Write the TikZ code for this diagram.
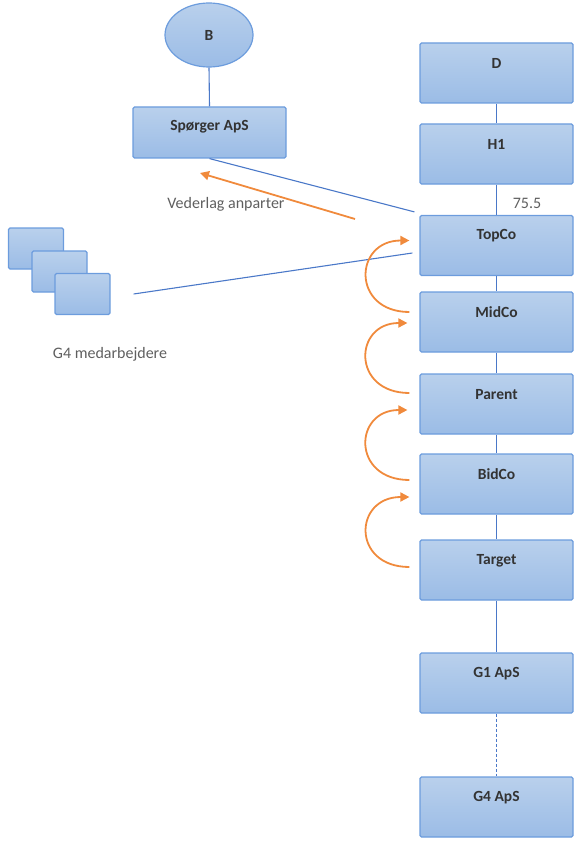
\documentclass[tikz,border=0pt]{standalone}
\usepackage{fontspec}
\setmainfont{Carlito}
\usetikzlibrary{shapes.geometric,arrows.meta}
\definecolor{boxtop}{HTML}{B9D0EC}
\definecolor{boxbot}{HTML}{9BBCE6}
\definecolor{boxedge}{HTML}{6C9CDD}
\definecolor{lnblue}{HTML}{4A78C8}
\definecolor{orng}{HTML}{F08A3C}
\definecolor{txt}{HTML}{333333}
\definecolor{gtxt}{HTML}{5F5F5F}
\begin{document}
\begin{tikzpicture}[x=1pt,y=-1pt,
  boxbase/.style={draw=boxedge, line width=1.2pt, rounded corners=1.5pt,
    top color=boxtop, bottom color=boxbot, inner sep=0pt},
  ent/.style={boxbase, minimum width=153pt, minimum height=60pt,
    label={[anchor=center, yshift=-21pt, font=\fontsize{15.5}{17}\selectfont\bfseries, text=txt]north:#1}},
  oval/.style={boxbase, ellipse, minimum width=88pt, minimum height=64pt,
    font=\fontsize{15.5}{17}\selectfont\bfseries, text=txt},
  person/.style={boxbase, minimum width=55pt, minimum height=41pt},
  gray/.style={font=\fontsize{16}{18}\selectfont, text=gtxt, inner sep=0pt},
  link/.style={draw=lnblue, line width=1.1pt},
  flow/.style={draw=orng, line width=1.8pt, -{Triangle[length=9pt,width=9pt]}}
]
\useasboundingbox (0,0) rectangle (588,853);

% left top
\node[oval] (b) at (209,35) {B};
\node[boxbase, minimum width=153pt, minimum height=51pt,
  label={[anchor=center, yshift=-20pt, font=\fontsize{15.5}{17}\selectfont\bfseries, text=txt]north:Spørger ApS}] (sp) at (209.5,132.5) {};

% right column
\node[ent=D] (d) at (496.5,73) {};
\node[ent=H1] (h1) at (496.5,154) {};
\node[ent=TopCo] (top) at (496.5,245.5) {};
\node[ent=MidCo] (mid) at (496.5,322) {};
\node[ent=Parent] (par) at (496.5,404) {};
\node[ent=BidCo] (bid) at (496.5,484) {};
\node[ent=Target] (tar) at (496.5,570) {};
\node[ent={G1 ApS}] (g1) at (496.5,683) {};
\node[ent={G4 ApS}] (g4) at (496.5,807) {};

% employees
\node[person] (p1) at (36,248.5) {};
\node[person] (p2) at (59.5,271.5) {};
\node[person] (p3) at (82.5,294) {};

% texts
\node[gray] (vl) at (226,204) {Vederlag anparter};
\node[gray] (gm) at (110,354) {G4 medarbejdere};
\node[gray] (pct) at (527,203) {75.5};

% vertical links
\draw[link] (b.south) -- (sp.north);
\draw[link] (d.south) -- (h1.north);
\draw[link] (h1.south) -- (top.north);
\draw[link] (top.south) -- (mid.north);
\draw[link] (mid.south) -- (par.north);
\draw[link] (par.south) -- (bid.north);
\draw[link] (bid.south) -- (tar.north);
\draw[link] (tar.south) -- (g1.north);
\draw[link, dashed, dash pattern=on 3pt off 2pt, line width=0.9pt] (g1.south) -- (g4.north);

% diagonal links
\coordinate (tsp) at ([xshift=-5pt,yshift=3pt]top.north west);
\draw[link] (sp.south) -- (tsp);
\coordinate (ge) at ([xshift=23pt]p3.east);
\coordinate (tge) at ([xshift=-7pt,yshift=-7.5pt]top.west);
\draw[link] (ge) -- (tge);

% orange flows
\coordinate (fa) at (355,219);
\coordinate (fb) at (200,173);
\draw[flow] (fa) -- (fb);

\coordinate (s1) at ([xshift=-10pt,yshift=10pt]mid.west);
\coordinate (e1) at ([xshift=-10pt,yshift=5pt]top.west);
\coordinate (s2) at ([xshift=-10pt,yshift=11pt]par.west);
\coordinate (e2) at ([xshift=-12pt,yshift=-1pt]mid.west);
\coordinate (s3) at ([xshift=-10pt,yshift=4pt]bid.west);
\coordinate (e3) at ([xshift=-12pt,yshift=-6pt]par.west);
\coordinate (s4) at ([xshift=-10pt,yshift=3pt]tar.west);
\coordinate (e4) at ([xshift=-10pt,yshift=-13pt]bid.west);
\draw[flow] (s1) .. controls ([xshift=-58pt]s1) and ([xshift=-56pt]e1) .. (e1);
\draw[flow] (s2) .. controls ([xshift=-58pt]s2) and ([xshift=-54pt]e2) .. (e2);
\draw[flow] (s3) .. controls ([xshift=-58pt]s3) and ([xshift=-54pt]e3) .. (e3);
\draw[flow] (s4) .. controls ([xshift=-58pt]s4) and ([xshift=-56pt]e4) .. (e4);
\end{tikzpicture}
\end{document}
